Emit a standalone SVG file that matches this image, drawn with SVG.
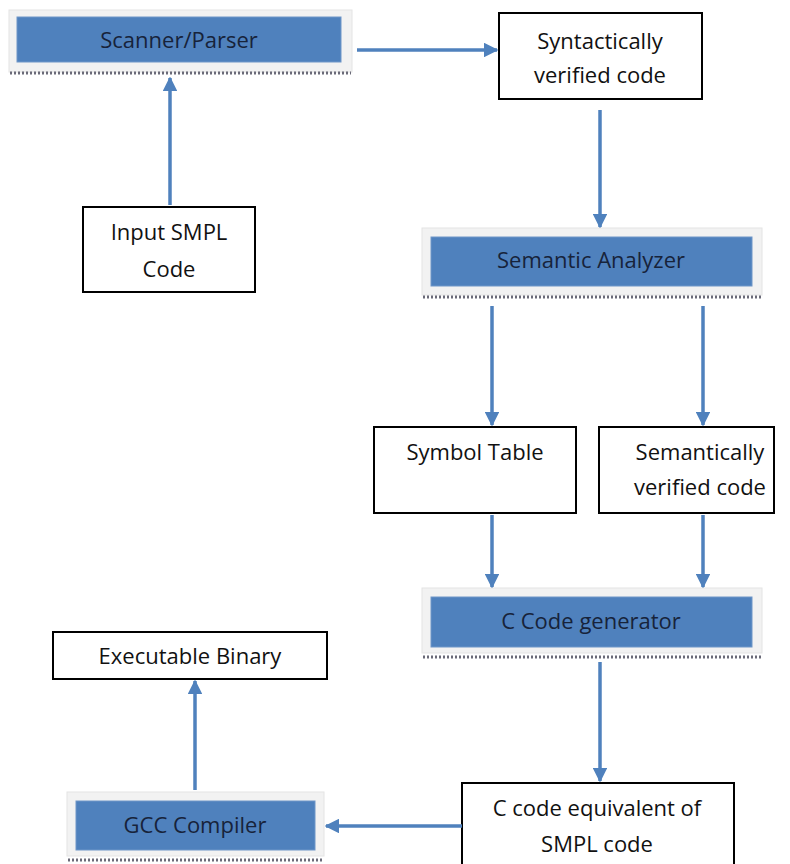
<svg xmlns="http://www.w3.org/2000/svg" width="790" height="864" viewBox="0 0 790 864">
<style>
.frame{fill:#f2f2f2;stroke:#e4e4e4;stroke-width:1}
.blue{fill:#4f81bd;stroke:#6f96c8;stroke-width:1}
.box{fill:#fff;stroke:#000;stroke-width:2}
.shadow{stroke:#6a6a78;stroke-width:3;stroke-dasharray:2 2}
.t{font-family:"Open Sans","Liberation Sans",sans-serif;font-size:22px;text-anchor:middle;fill:#111}
.tb{font-family:"Open Sans","Liberation Sans",sans-serif;font-size:22px;text-anchor:middle;fill:#17233a}
.c{stroke:#4f81bd;stroke-width:3.5;fill:none;marker-end:url(#ah)}
</style>
<defs>
<marker id="ah" viewBox="0 0 10 10" refX="9" refY="5" markerWidth="4.2" markerHeight="4.2" orient="auto" markerUnits="strokeWidth">
<path d="M0,0 L10,5 L0,10 Z" fill="#4f81bd"/>
</marker>
</defs>
<rect width="790" height="864" fill="#fff"/>
<g id="scanner">
<rect class="frame" x="9" y="10" width="343" height="62"/>
<line class="shadow" x1="10" y1="73" x2="351" y2="73"/>
<rect class="blue" x="17" y="17" width="324" height="45"/>
<text class="tb" x="179" y="48">Scanner/Parser</text>
</g>
<g id="syntactic">
<rect class="box" x="499" y="13" width="203" height="86"/>
<text class="t" x="600" y="49">Syntactically</text>
<text class="t" x="600" y="83">verified code</text>
</g>
<g id="input">
<rect class="box" x="83" y="207" width="172" height="85"/>
<text class="t" x="169" y="240">Input SMPL</text>
<text class="t" x="169" y="277">Code</text>
</g>
<g id="semantic">
<rect class="frame" x="422" y="228" width="340" height="67"/>
<line class="shadow" x1="423" y1="297" x2="761" y2="297"/>
<rect class="blue" x="431" y="237" width="321" height="49"/>
<text class="tb" x="591" y="268">Semantic Analyzer</text>
</g>
<g id="symbol">
<rect class="box" x="374" y="427" width="202" height="86"/>
<text class="t" x="475" y="460">Symbol Table</text>
</g>
<g id="semverified">
<rect class="box" x="599" y="427" width="175" height="86"/>
<text class="t" x="700" y="460">Semantically</text>
<text class="t" x="700" y="495">verified code</text>
</g>
<g id="ccodegen">
<rect class="frame" x="422" y="588" width="340" height="65"/>
<line class="shadow" x1="423" y1="657" x2="761" y2="657"/>
<rect class="blue" x="431" y="597" width="321" height="50"/>
<text class="tb" x="591" y="629">C Code generator</text>
</g>
<g id="cequiv">
<rect class="box" x="462" y="783" width="272" height="90"/>
<text class="t" x="597" y="816">C code equivalent of</text>
<text class="t" x="597" y="852">SMPL code</text>
</g>
<g id="gcc">
<rect class="frame" x="67" y="792" width="257" height="64"/>
<line class="shadow" x1="68" y1="860" x2="323" y2="860"/>
<rect class="blue" x="76" y="801" width="239" height="49"/>
<text class="tb" x="195" y="833">GCC Compiler</text>
</g>
<g id="exec">
<rect class="box" x="53" y="632" width="274" height="47"/>
<text class="t" x="190" y="664">Executable Binary</text>
</g>
<g id="connectors">
<line class="c" x1="357" y1="50" x2="497" y2="50"/>
<line class="c" x1="170" y1="205" x2="170" y2="78"/>
<line class="c" x1="600" y1="110" x2="600" y2="227"/>
<line class="c" x1="492" y1="306" x2="492" y2="425"/>
<line class="c" x1="703" y1="306" x2="703" y2="425"/>
<line class="c" x1="492" y1="515" x2="492" y2="587"/>
<line class="c" x1="703" y1="515" x2="703" y2="587"/>
<line class="c" x1="600" y1="662" x2="600" y2="781"/>
<line class="c" x1="462" y1="826" x2="326" y2="826"/>
<line class="c" x1="195" y1="790" x2="195" y2="681"/>
</g>
</svg>
